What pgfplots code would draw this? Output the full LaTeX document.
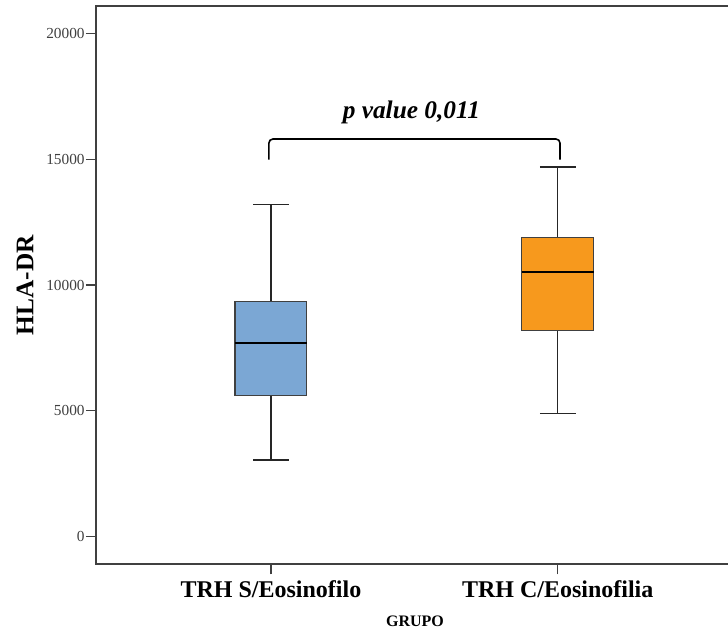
\documentclass[border=0pt]{standalone}
\usepackage{fontspec}
\setmainfont{Liberation Serif}
\usepackage{pgfplots}
\pgfplotsset{compat=1.18}
\definecolor{boxblue}{RGB}{123,167,212}
\definecolor{boxorange}{RGB}{247,153,29}
\definecolor{axgray}{RGB}{64,64,64}
\begin{document}
\begin{tikzpicture}
\begin{axis}[
  at={(72pt,51.5pt)}, anchor=south west,
  scale only axis,
  width=477.45pt, height=418.5pt,
  xmin=0.390, xmax=2.61,
  ymin=-1114, ymax=21090,
  axis line style={draw=axgray, line width=1.3pt},
  tick pos=left,
  tick align=outside,
  major tick length=7.5pt,
  every tick/.style={draw=axgray, line width=1.1pt},
  xtick={1,2},
  xticklabels={TRH S/Eosinofilo, TRH C/Eosinofilia},
  ytick={0,5000,10000,15000,20000},
  yticklabels={0,5000,10000,15000,20000},
  yticklabel style={font=\fontsize{11.5}{13}\selectfont, text=axgray, xshift=2.5pt},
  xticklabel style={font=\fontsize{18}{20}\selectfont\bfseries, yshift=-1pt},
  xlabel={GRUPO},
  xlabel style={at={(axis description cs:0.501,-0.1016)}, anchor=center, font=\fontsize{12}{14}\selectfont\bfseries},
  ylabel={HLA-DR},
  ylabel style={at={(axis description cs:-0.1115,0.5)}, anchor=center, font=\fontsize{19}{21}\selectfont\bfseries},
]
% group 1: TRH S/Eosinofilo
\addplot[black!85, line width=1.2pt] coordinates {(1,9336) (1,13210)};
\addplot[black!85, line width=1.2pt] coordinates {(1,5595) (1,3036)};
\addplot[black!85, line width=1.2pt] coordinates {(0.9375,13210) (1.0625,13210)};
\addplot[black!85, line width=1.2pt] coordinates {(0.9375,3036) (1.0625,3036)};
\addplot[fill=boxblue, draw=black!75, line width=0.9pt] coordinates {(0.875,5595) (1.125,5595) (1.125,9336) (0.875,9336)} -- cycle;
\addplot[black, line width=1.3pt] coordinates {(0.875,7680) (1.125,7680)};
% group 2: TRH C/Eosinofilia
\addplot[black!85, line width=1.2pt] coordinates {(2,11898) (2,14708)};
\addplot[black!85, line width=1.2pt] coordinates {(2,8181) (2,4895)};
\addplot[black!85, line width=1.2pt] coordinates {(1.9375,14708) (2.0625,14708)};
\addplot[black!85, line width=1.2pt] coordinates {(1.9375,4895) (2.0625,4895)};
\addplot[fill=boxorange, draw=black!75, line width=0.9pt] coordinates {(1.875,8181) (2.125,8181) (2.125,11898) (1.875,11898)} -- cycle;
\addplot[black, line width=1.3pt] coordinates {(1.875,10517) (2.125,10517)};
% significance bracket
\draw[line width=1.2pt, rounded corners=3pt] (axis cs:0.993,14990) -- (axis cs:0.993,15810) -- (axis cs:2.008,15810) -- (axis cs:2.008,14990);
\node[font=\fontsize{19}{21}\selectfont\bfseries\itshape] at (axis cs:1.49,16850) {p value 0,011};
\end{axis}
\pgfresetboundingbox
\useasboundingbox (0,0) rectangle (546pt,474.75pt);
\end{tikzpicture}
\end{document}
